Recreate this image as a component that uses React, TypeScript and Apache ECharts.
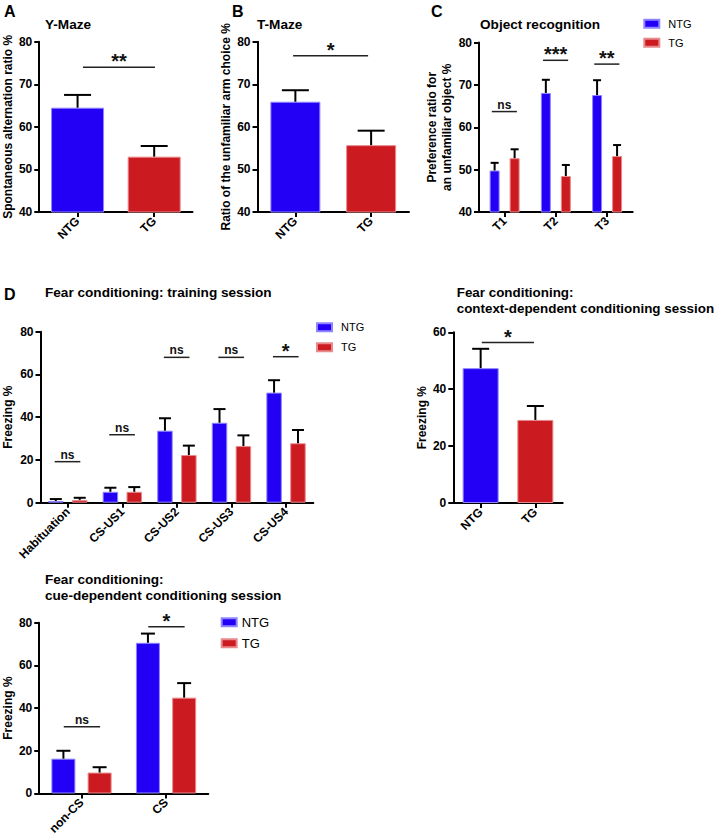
import React, { useEffect, useRef } from 'react';
import * as echarts from 'echarts';

const F = '"Liberation Sans", Arial, Helvetica, sans-serif';
const BLUE = '#2300f5';
const RED = '#cc1b20';
const BLUE_EDGE = '#8f86ff';
const RED_EDGE = '#e8898c';

// ---- Panel A: Y-Maze ----
const yMazeGroups = ['NTG', 'TG'];
const yMazeMean = [64.5, 53.0];
const yMazeSem = [3.0, 2.5];
const yMazeSig: [number, number, number, string][] = [[0, 1, 74, '**']];

// ---- Panel B: T-Maze ----
const tMazeGroups = ['NTG', 'TG'];
const tMazeMean = [65.9, 55.7];
const tMazeSem = [2.7, 3.4];
const tMazeSig: [number, number, number, string][] = [[0, 1, 76.7, '*']];

// ---- Panel C: Object recognition ----
const objTrials = ['T1', 'T2', 'T3'];
const objNTG = [49.8, 68.1, 67.6];
const objNTGSem = [1.8, 3.1, 3.5];
const objTG = [52.7, 48.5, 53.2];
const objTGSem = [2.1, 2.6, 2.6];
const objSig: [number, number, number, string][] = [
  [0, 0, 63.7, 'ns'],
  [1, 1, 75.8, '***'],
  [2, 2, 74.9, '**'],
];

// ---- Panel D: training session ----
const trainPhases = ['Habituation', 'CS-US1', 'CS-US2', 'CS-US3', 'CS-US4'];
const trainNTG = [0.8, 5.1, 33.7, 37.4, 51.5];
const trainNTGSem = [0.9, 1.9, 5.8, 6.4, 5.8];
const trainTG = [1.3, 5.1, 22.3, 26.5, 27.8];
const trainTGSem = [1.0, 2.2, 4.4, 5.0, 6.2];
const trainSig: [number, number, number, string][] = [
  [0, 0, 19.2, 'ns'],
  [1, 1, 31.8, 'ns'],
  [2, 2, 68, 'ns'],
  [3, 3, 68, 'ns'],
  [4, 4, 68.3, '*'],
];

// ---- Panel D: context-dependent ----
const contextGroups = ['NTG', 'TG'];
const contextMean = [47.4, 29.2];
const contextSem = [6.8, 4.9];
const contextSig: [number, number, number, string][] = [[0, 1, 56.4, '*']];

// ---- Panel D: cue-dependent ----
const cuePhases = ['non-CS', 'CS'];
const cueNTG = [16.3, 70.6];
const cueNTGSem = [3.7, 4.3];
const cueTG = [9.8, 44.9];
const cueTGSem = [2.5, 6.8];
const cueSig: [number, number, number, string][] = [
  [0, 0, 31.3, 'ns'],
  [1, 1, 78.1, '*'],
];

const groupColors = [BLUE, RED];
const groupEdges = [BLUE_EDGE, RED_EDGE];

function yAx(gi: number, min: number, max: number, interval: number, name: string, nameGap: number, lh = 14) {
  return {
    type: 'value', gridIndex: gi, min, max, interval,
    axisLine: { show: true, lineStyle: { color: '#000', width: 2 } },
    axisTick: { show: true, length: 5, lineStyle: { color: '#000', width: 2 } },
    splitLine: { show: false },
    axisLabel: { color: '#000', fontWeight: 'bold', fontSize: 12, fontFamily: F, margin: 7 },
    name, nameLocation: 'middle', nameGap,
    nameTextStyle: { color: '#000', fontWeight: 'bold', fontSize: 12, fontFamily: F, lineHeight: lh },
  };
}

function xAx(gi: number, cats: string[]) {
  return {
    type: 'category', gridIndex: gi, data: cats,
    axisLine: { show: true, lineStyle: { color: '#000', width: 2 } },
    axisTick: { show: true, alignWithLabel: true, length: 5, lineStyle: { color: '#000', width: 2 } },
    axisLabel: { color: '#000', fontWeight: 'bold', fontSize: 12, fontFamily: F, rotate: 45, interval: 0, margin: 7 },
    splitLine: { show: false },
  };
}

function coloredBars(gi: number, name: string, values: number[], width: number) {
  return {
    type: 'bar', name, xAxisIndex: gi, yAxisIndex: gi, barWidth: width,
    data: values.map((v, i) => ({
      value: v,
      itemStyle: { color: groupColors[i], borderColor: groupEdges[i], borderWidth: 1 },
    })),
  };
}

function groupBar(gi: number, name: string, values: number[], width: number, gap: string, idx: number) {
  return {
    type: 'bar', name, xAxisIndex: gi, yAxisIndex: gi, barWidth: width, barGap: gap,
    itemStyle: { color: groupColors[idx], borderColor: groupEdges[idx], borderWidth: 1 },
    data: values,
  };
}

function makeErr(gi: number, means: number[], sems: number[], offset: number, cap: number) {
  return {
    type: 'custom', xAxisIndex: gi, yAxisIndex: gi, z: 5, silent: true, clip: false,
    data: means.map((m, i) => [i, m, sems[i]]),
    renderItem: (params: any, api: any) => {
      const i = api.value(0), m = api.value(1), e = api.value(2);
      const p0 = api.coord([i, m]);
      const p1 = api.coord([i, m + e]);
      const x = p0[0] + offset;
      return {
        type: 'group',
        children: [
          { type: 'line', shape: { x1: x, y1: p0[1], x2: x, y2: p1[1] }, style: { stroke: '#000', lineWidth: 2 } },
          { type: 'line', shape: { x1: x - cap / 2, y1: p1[1], x2: x + cap / 2, y2: p1[1] }, style: { stroke: '#000', lineWidth: 2 } },
        ],
      };
    },
  };
}

function makeSig(gi: number, sigs: [number, number, number, string][], f0: number, f1: number) {
  return {
    type: 'custom', xAxisIndex: gi, yAxisIndex: gi, z: 6, silent: true, clip: false,
    data: sigs.map((s) => [s[0], s[2], s[1]]),
    renderItem: (params: any, api: any) => {
      const s = sigs[params.dataIndex];
      const a = api.coord([s[0], s[2]]);
      const b = api.coord([s[1], s[2]]);
      const band = api.size([1, 0])[0];
      const x1 = a[0] + f0 * band;
      const x2 = b[0] + f1 * band;
      const y = a[1];
      const star = s[3].indexOf('*') >= 0;
      return {
        type: 'group',
        children: [
          { type: 'line', shape: { x1, y1: y, x2, y2: y }, style: { stroke: '#222', lineWidth: 1.5 } },
          {
            type: 'text',
            style: {
              text: s[3], x: (x1 + x2) / 2, y: star ? y - 6 : y - 1,
              align: 'center', verticalAlign: star ? 'middle' : 'bottom',
              fontSize: star ? 20 : 12, fontWeight: 'bold', fontFamily: F, fill: '#111',
            },
          },
        ],
      };
    },
  };
}

function legendAt(left: number, top: number, gap: number, fontSize: number, pad: number) {
  return {
    data: ['NTG', 'TG'], left, top, orient: 'vertical', icon: 'rect',
    itemWidth: 15, itemHeight: 8, itemGap: gap, padding: 0, selectedMode: false,
    textStyle: { color: '#000', fontSize, fontFamily: F, lineHeight: 8, padding: [0, 0, 0, pad] },
  };
}

function titleAt(text: string, left: number, top: number, size: number, lh: number) {
  return {
    text, left, top, padding: 0,
    textStyle: { color: '#000', fontWeight: 'bold', fontSize: size, fontFamily: F, lineHeight: lh },
  };
}

export default function App() {
  const ref = useRef<HTMLDivElement>(null);
  useEffect(() => {
    if (!ref.current) return;
    const chart = echarts.init(ref.current, undefined, { renderer: 'svg' });
    const option: any = {
      animation: false,
      backgroundColor: '#fff',
      title: [
        titleAt('A', 4, 3, 16, 16),
        titleAt('B', 232, 3, 16, 16),
        titleAt('C', 431, 3, 16, 16),
        titleAt('D', 4, 286, 16, 16),
        titleAt('Y-Maze', 45, 17.5, 13.6, 14),
        titleAt('T-Maze', 257, 17.5, 13.6, 14),
        titleAt('Object recognition', 480, 17.5, 13.6, 14),
        titleAt('Fear conditioning: training session', 45, 285, 13.6, 14),
        titleAt('Fear conditioning:\ncontext-dependent conditioning session', 456.7, 284, 13.4, 16.4),
        titleAt('Fear conditioning:\ncue-dependent conditioning session', 45, 571.5, 13.6, 16.2),
      ],
      legend: [
        legendAt(643.3, 18.3, 8, 11, 4),
        legendAt(316, 321.7, 9, 11, 4),
        legendAt(220.7, 615.7, 8, 13, 0),
      ],
      grid: [
        { left: 35.5, top: 41.7, width: 157, height: 170.3 },
        { left: 257.5, top: 41.7, width: 151.5, height: 170.3 },
        { left: 479, top: 42.5, width: 153.7, height: 169.5 },
        { left: 38.3, top: 331.7, width: 275, height: 171 },
        { left: 453.3, top: 332.3, width: 109.4, height: 170.7 },
        { left: 39, top: 622.7, width: 169.3, height: 171.6 },
      ],
      xAxis: [
        xAx(0, yMazeGroups),
        xAx(1, tMazeGroups),
        xAx(2, objTrials),
        xAx(3, trainPhases),
        xAx(4, contextGroups),
        xAx(5, cuePhases),
      ],
      yAxis: [
        yAx(0, 40, 80, 10, 'Spontaneous alternation ratio %', 21),
        yAx(1, 40, 80, 10, 'Ratio of the unfamiliar arm choice %', 20.5),
        yAx(2, 40, 80, 10, 'Preference ratio for\nan unfamiliar object %', 21.5, 15),
        yAx(3, 0, 80, 20, 'Freezing %', 25.5),
        yAx(4, 0, 60, 20, 'Freezing %', 24),
        yAx(5, 0, 80, 20, 'Freezing %', 22),
      ],
      series: [
        coloredBars(0, 'Y-Maze', yMazeMean, 53),
        makeErr(0, yMazeMean, yMazeSem, 0, 27),
        makeSig(0, yMazeSig, 0.07, 0.01),

        coloredBars(1, 'T-Maze', tMazeMean, 50),
        makeErr(1, tMazeMean, tMazeSem, 0, 27),
        makeSig(1, tMazeSig, -0.03, -0.04),

        groupBar(2, 'NTG', objNTG, 10, '100%', 0),
        groupBar(2, 'TG', objTG, 10, '100%', 1),
        makeErr(2, objNTG, objNTGSem, -10, 8),
        makeErr(2, objTG, objTGSem, 10, 8),
        makeSig(2, objSig, -0.25, 0.24),

        groupBar(3, 'NTG', trainNTG, 15.5, '54%', 0),
        groupBar(3, 'TG', trainTG, 15.5, '54%', 1),
        makeErr(3, trainNTG, trainNTGSem, -11.95, 12),
        makeErr(3, trainTG, trainTGSem, 11.95, 12),
        makeSig(3, trainSig, -0.24, 0.23),

        coloredBars(4, 'Context', contextMean, 36),
        makeErr(4, contextMean, contextSem, 0, 17),
        makeSig(4, contextSig, 0.02, -0.025),

        groupBar(5, 'NTG', cueNTG, 24, '51%', 0),
        groupBar(5, 'TG', cueTG, 24, '51%', 1),
        makeErr(5, cueNTG, cueNTGSem, -18.1, 14),
        makeErr(5, cueTG, cueTGSem, 18.1, 14),
        makeSig(5, cueSig, -0.21, 0.22),
      ],
    };
    chart.setOption(option);
    return () => chart.dispose();
  }, []);
  return (
    <div
      ref={ref}
      style={{ position: 'absolute', left: 0, top: 0, width: 724, height: 837, background: '#fff' }}
    />
  );
}
